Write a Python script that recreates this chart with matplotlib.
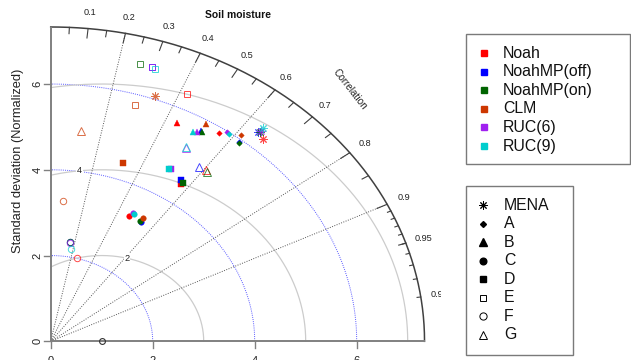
import numpy as np
import matplotlib
matplotlib.use("Agg")
import matplotlib.pyplot as plt
from matplotlib import font_manager as fm
from matplotlib.patches import Rectangle
from matplotlib.transforms import Bbox

# ---- data: normalized standard deviation and correlation per model ----
models = ["Noah", "NoahMP(off)", "NoahMP(on)", "CLM", "RUC(6)", "RUC(9)"]
model_colors = ["#FF0000", "#0000FF", "#006400", "#CD3700", "#A020F0", "#00CDCD"]
experiments = ["MENA", "A", "B", "C", "D", "E", "F", "G"]

sd_mena = [6.283, 6.350, 6.380, 6.084, 6.410, 6.477]
cor_mena = [0.662, 0.641, 0.642, 0.337, 0.642, 0.642]
sd_a = [5.870, 5.921, 5.916, 6.098, 5.984, 5.960]
cor_a = [0.563, 0.622, 0.625, 0.613, 0.577, 0.587]
sd_b = [5.658, 5.717, 5.715, 5.909, 5.665, 5.631]
cor_b = [0.439, 0.514, 0.518, 0.514, 0.505, 0.497]
sd_c = [3.304, 3.298, 3.307, 3.395, 3.403, 3.388]
cor_c = [0.467, 0.537, 0.529, 0.535, 0.473, 0.482]
sd_d = [4.467, 4.534, 4.522, 4.385, 4.653, 4.636]
cor_d = [0.571, 0.562, 0.574, 0.322, 0.507, 0.502]
sd_e = [6.365, 6.703, 6.708, 5.755, 6.703, 6.665]
cor_e = [0.421, 0.295, 0.262, 0.288, 0.295, 0.307]
sd_f = [2.009, 2.340, 2.357, 3.281, 2.324, 2.188]
cor_f = [0.254, 0.162, 0.158, 0.075, 0.165, 0.179]
sd_g = [5.023, 5.007, 5.001, 4.947, 5.231, 5.241]
cor_g = [0.606, 0.582, 0.611, 0.120, 0.507, 0.506]

ref_sd = 1.0
max_sd = 7.33
sd_arcs = [2, 4, 6]
rms_arcs = [2, 4, 6]
corr_lines = [0.2, 0.4, 0.6, 0.8, 0.9]
corr_labels = [0.1, 0.2, 0.3, 0.4, 0.5, 0.6, 0.7, 0.8, 0.9, 0.95, 0.99]
sd_ticks = [0, 2, 4, 6]

stats = [(sd_mena, cor_mena), (sd_a, cor_a), (sd_b, cor_b), (sd_c, cor_c),
         (sd_d, cor_d), (sd_e, cor_e), (sd_f, cor_f), (sd_g, cor_g)]
# marker, size, filled
styles = [((8, 2, 0), 6.0, False), ("D", 2.8, True), ("^", 5.0, True),
          ("o", 4.0, True), ("s", 4.0, True), ("s", 4.4, False),
          ("o", 4.6, False), ("^", 5.6, False)]
legend_styles = [((8, 2, 0), 6.0, False), ("D", 3.0, True), ("^", 5.5, True),
                 ("o", 4.8, True), ("s", 4.6, True), ("s", 5.0, False),
                 ("o", 5.2, False), ("^", 6.0, False)]

# ---- fonts ----
names = {f.name for f in fm.fontManager.ttflist}
has_narrow = "Liberation Sans Narrow" in names
narrow = "Liberation Sans Narrow" if has_narrow else "Liberation Sans"
regular = "Liberation Sans"
k = 1.0 if has_narrow else 0.88

# ---- figure in pixel-like layout ----
W, H = 631, 360
X0, SX = 50.7, 51.0
Y0, SY = 341.3, 42.88
fig = plt.figure(figsize=(W / 100, H / 100), dpi=100)
ax = fig.add_axes([0, 0, 1, 1])
ax.set_xlim((0 - X0) / SX, (W - X0) / SX)
ax.set_ylim((Y0 - H) / SY, Y0 / SY)
ax.axis("off")


def fx(px):
    return px / W


def fy(py):
    return 1 - py / H


def polar(sd, r):
    sd = np.asarray(sd, float)
    r = np.asarray(r, float)
    return sd * r, sd * np.sqrt(1 - r ** 2)


th = np.linspace(0, np.pi / 2, 300)

# standard deviation arcs
for s in sd_arcs:
    ax.plot(s * np.cos(th), s * np.sin(th), color="#5a5aff", lw=0.7,
            ls=(0, (1, 1.2)), zorder=1)

# centered RMS difference arcs around the reference point
ph = np.linspace(0, np.pi, 600)
for i, g in enumerate(rms_arcs):
    xc = ref_sd + g * np.cos(ph)
    yc = g * np.sin(ph)
    keep = (xc >= 0) & (xc ** 2 + yc ** 2 <= max_sd ** 2)
    ax.plot(xc[keep], yc[keep], color="#cccccc", lw=0.9, zorder=1)
    ang = int(44 + i * 12.5) * 0.03
    lx, ly = ref_sd + g * np.cos(ang), g * np.sin(ang)
    if lx > 0:
        ax.text(lx, ly, str(g), ha="center", va="center", fontsize=7.5 * k,
                family=narrow, color="#222222", zorder=3,
                bbox=dict(facecolor="white", edgecolor="none", pad=0.6))

# correlation rays
for c in corr_lines:
    a = np.arccos(c)
    ax.plot([0, max_sd * np.cos(a)], [0, max_sd * np.sin(a)], color="#555555",
            lw=0.7, ls=(0, (1, 1.5)), zorder=1)

# outer correlation arc with ticks
ax.plot(max_sd * np.cos(th), max_sd * np.sin(th), color="#404040", lw=1.1, zorder=2)
for vals, frac in [(np.arange(1, 10) / 10, 0.97),
                   (np.arange(0.05, 1.0, 0.1), 0.98),
                   (np.arange(0.91, 1.0, 0.01), 0.99)]:
    for ai in np.arccos(vals):
        ax.plot([max_sd * np.cos(ai), frac * max_sd * np.cos(ai)],
                [max_sd * np.sin(ai), frac * max_sd * np.sin(ai)],
                color="#404040", lw=0.8, zorder=2)
clip = Bbox.from_extents(0, 0, 441, H)
for c in corr_labels:
    a = np.arccos(c)
    t = ax.text(1.05 * max_sd * np.cos(a), 1.05 * max_sd * np.sin(a), f"{c:g}",
                ha="center", va="center", fontsize=7.5 * k, family=narrow,
                color="#222222")
    t.set_clip_box(clip)
    t.set_clip_on(True)

# standard deviation axes
ax.plot([0, max_sd], [0, 0], color="#808080", lw=1.4, zorder=2, solid_capstyle="butt")
ax.plot([0, 0], [0, max_sd], color="#808080", lw=1.4, zorder=2, solid_capstyle="butt")
for v in sd_ticks:
    ax.plot([0, -7 / SX], [v, v], color="#808080", lw=1.0)
    ax.text(-13.2 / SX, v, str(v), rotation=90, ha="center", va="center",
            fontsize=8, family=regular, color="#222222")
    ax.plot([v, v], [0, -7 / SY], color="#808080", lw=1.0)
    ax.text(v, -14.5 / SY, str(v), ha="center", va="top", fontsize=8,
            family=regular, color="#222222")

# reference point
ax.plot([ref_sd], [0], marker="o", ms=4.2, mfc="none", mec="#333333", mew=0.8,
        ls="none", zorder=4)

# model points
for (sds, cors), (mk, ms, filled) in zip(stats, styles):
    xs, ys = polar(sds, cors)
    for x, y, col in zip(xs, ys, model_colors):
        if filled:
            ax.plot([x], [y], marker=mk, ms=ms, mfc=col, mec=col, mew=0.3,
                    ls="none", zorder=5)
        else:
            ax.plot([x], [y], marker=mk, ms=ms, mfc="none", mec=col, mew=0.7,
                    alpha=0.72, ls="none", zorder=5)

# titles and labels
ax.text(fx(238), fy(15.5), "Soil moisture", transform=ax.transAxes, ha="center",
        va="center", fontsize=8.5 * k, family=narrow, weight="bold", color="#111111")
ax.text(fx(18), fy(161), "Standard deviation (Normalized)", transform=ax.transAxes,
        rotation=90, ha="center", va="center", fontsize=9.3, family=regular,
        color="#222222")
ax.text(0.8 * max_sd, 0.8 * max_sd, "Correlation", rotation=-52, ha="center",
        va="center", fontsize=7.2, family=regular, color="#222222")

# model legend
ax.add_patch(Rectangle((fx(466), fy(164)), fx(630) - fx(466), fy(34) - fy(164),
                       transform=ax.transAxes, fill=False, edgecolor="#7a7a7a",
                       lw=1.0, zorder=6))
for i, (name, col) in enumerate(zip(models, model_colors)):
    yy = 53 + 18.6 * i
    ax.plot([fx(484)], [fy(yy)], marker="s", ms=4.3, mfc=col, mec=col,
            transform=ax.transAxes, ls="none", zorder=7)
    ax.text(fx(503), fy(yy), name, transform=ax.transAxes, ha="left",
            va="center", fontsize=13 * k, family=narrow, color="#111111")

# experiment legend
ax.add_patch(Rectangle((fx(466), fy(355)), fx(573) - fx(466), fy(186) - fy(355),
                       transform=ax.transAxes, fill=False, edgecolor="#7a7a7a",
                       lw=1.0, zorder=6))
for i, (name, (mk, ms, filled)) in enumerate(zip(experiments, legend_styles)):
    yy = 205 + 18.57 * i
    if filled:
        ax.plot([fx(483)], [fy(yy)], marker=mk, ms=ms, mfc="black", mec="black",
                transform=ax.transAxes, ls="none", zorder=7)
    else:
        ax.plot([fx(483)], [fy(yy)], marker=mk, ms=ms, mfc="none", mec="black",
                mew=0.7, transform=ax.transAxes, ls="none", zorder=7)
    ax.text(fx(504), fy(yy), name, transform=ax.transAxes, ha="left",
            va="center", fontsize=13 * k, family=narrow, color="#111111")

fig.savefig("out.png", dpi=100)
